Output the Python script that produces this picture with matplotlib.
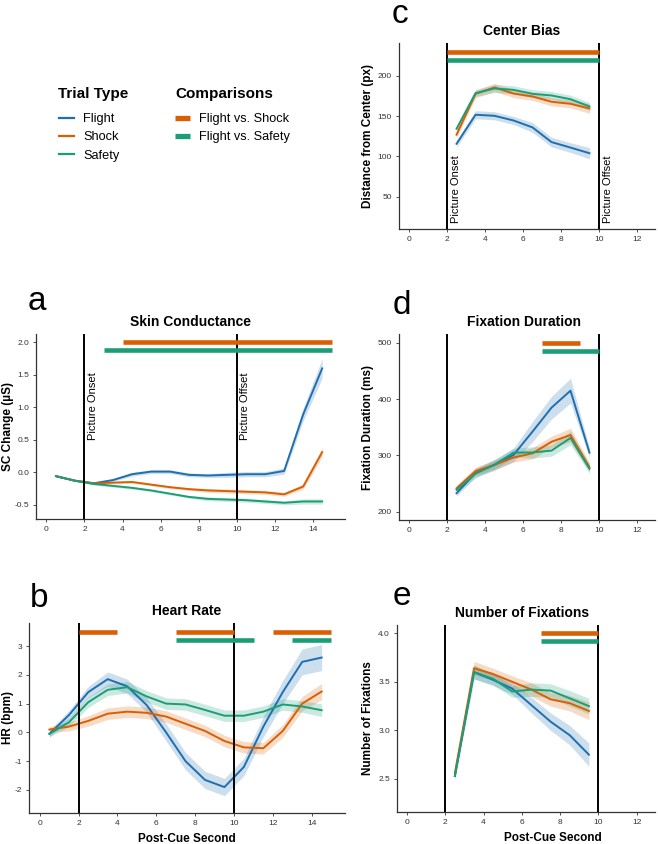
import matplotlib
matplotlib.use("Agg")
import matplotlib.pyplot as plt
from matplotlib.lines import Line2D

plt.rcParams["font.family"] = ["Liberation Sans", "DejaVu Sans"]
plt.rcParams["axes.unicode_minus"] = False

# ---- colours ----
C_FLIGHT = "#1f6fb0"
C_SHOCK = "#d95f02"
C_SAFETY = "#1b9e77"

# ---- a: skin conductance ----
sc_sec = [0.5, 1.5, 2.5, 3.5, 4.5, 5.5, 6.5, 7.5, 8.5, 9.5, 10.5, 11.5, 12.5, 13.5, 14.5]
sc_flight = [-0.06, -0.13, -0.17, -0.12, -0.03, 0.01, 0.01, -0.04, -0.05, -0.04, -0.03, -0.03, 0.02, 0.89, 1.60]
sc_shock = [-0.06, -0.13, -0.17, -0.16, -0.15, -0.19, -0.23, -0.26, -0.28, -0.29, -0.30, -0.31, -0.34, -0.22, 0.31]
sc_safety = [-0.06, -0.13, -0.18, -0.21, -0.24, -0.28, -0.33, -0.38, -0.41, -0.42, -0.43, -0.45, -0.47, -0.45, -0.45]
sc_flight_ci = [0.01, 0.01, 0.02, 0.02, 0.03, 0.03, 0.03, 0.03, 0.03, 0.04, 0.04, 0.04, 0.05, 0.10, 0.15]
sc_shock_ci = [0.01, 0.01, 0.02, 0.02, 0.02, 0.02, 0.02, 0.02, 0.03, 0.03, 0.03, 0.03, 0.03, 0.04, 0.07]
sc_safety_ci = [0.01, 0.01, 0.02, 0.02, 0.02, 0.02, 0.02, 0.02, 0.03, 0.03, 0.03, 0.03, 0.03, 0.04, 0.04]
sc_sig_shock = [(4, 15)]
sc_sig_safety = [(3, 15)]

# ---- b: heart rate ----
hr_sec = sc_sec
hr_flight = [-0.05, 0.60, 1.40, 1.85, 1.60, 0.95, 0.00, -1.00, -1.65, -1.90, -1.20, 0.20, 1.40, 2.45, 2.60]
hr_shock = [0.10, 0.20, 0.40, 0.65, 0.72, 0.68, 0.55, 0.30, 0.05, -0.30, -0.52, -0.55, 0.05, 1.00, 1.42]
hr_safety = [-0.05, 0.35, 1.05, 1.48, 1.57, 1.25, 1.00, 0.97, 0.78, 0.58, 0.58, 0.72, 0.97, 0.90, 0.77]
hr_flight_ci = [0.12, 0.15, 0.20, 0.25, 0.25, 0.25, 0.30, 0.30, 0.30, 0.30, 0.30, 0.35, 0.40, 0.45, 0.45]
hr_shock_ci = [0.10, 0.15, 0.18, 0.20, 0.20, 0.20, 0.20, 0.20, 0.20, 0.20, 0.20, 0.20, 0.22, 0.25, 0.28]
hr_safety_ci = [0.10, 0.15, 0.18, 0.20, 0.20, 0.20, 0.20, 0.20, 0.20, 0.20, 0.20, 0.20, 0.20, 0.20, 0.22]
hr_sig_shock = [(2, 4), (7, 10), (12, 15)]
hr_sig_safety = [(7, 11), (13, 15)]

# ---- c: center bias ----
eye_sec = [2.5, 3.5, 4.5, 5.5, 6.5, 7.5, 8.5, 9.5]
cb_flight = [115.7, 151.7, 150.4, 144.6, 136.0, 117.8, 111.0, 104.0]
cb_shock = [127.0, 177.7, 185.5, 178.0, 174.4, 167.8, 165.3, 159.5]
cb_safety = [134.3, 178.5, 184.3, 182.6, 177.7, 175.6, 171.0, 162.0]
cb_flight_ci = [4, 5, 5, 5, 6, 6, 6, 7]
cb_shock_ci = [4, 5, 5, 5, 5, 5, 5, 6]
cb_safety_ci = [4, 4, 5, 5, 5, 5, 5, 5]
cb_sig_shock = [(2, 10)]
cb_sig_safety = [(2, 10)]

# ---- d: fixation duration ----
fd_flight = [232.5, 269.0, 283.0, 300.6, 342.0, 384.6, 414.8, 304.7]
fd_shock = [241.4, 272.0, 283.0, 296.0, 303.5, 324.0, 336.0, 278.7]
fd_safety = [238.5, 267.5, 283.4, 304.7, 305.0, 308.3, 330.8, 276.0]
fd_flight_ci = [5, 8, 10, 12, 18, 20, 22, 8]
fd_shock_ci = [5, 7, 8, 8, 10, 10, 12, 8]
fd_safety_ci = [5, 7, 8, 8, 10, 10, 12, 8]
fd_sig_shock = [(7, 9)]
fd_sig_safety = [(7, 10)]

# ---- e: number of fixations ----
nf_flight = [2.53, 3.60, 3.52, 3.43, 3.26, 3.09, 2.95, 2.75]
nf_shock = [2.56, 3.64, 3.58, 3.50, 3.42, 3.32, 3.28, 3.20]
nf_safety = [2.53, 3.60, 3.53, 3.40, 3.42, 3.41, 3.33, 3.25]
nf_flight_ci = [0.03, 0.07, 0.06, 0.06, 0.08, 0.09, 0.10, 0.12]
nf_shock_ci = [0.03, 0.07, 0.06, 0.06, 0.07, 0.07, 0.08, 0.09]
nf_safety_ci = [0.03, 0.07, 0.06, 0.06, 0.07, 0.07, 0.08, 0.08]
nf_sig_shock = [(7, 10)]
nf_sig_safety = [(7, 10)]

W, H = 658, 844
fig = plt.figure(figsize=(W / 100, H / 100), dpi=100)


def px_axes(left, top, right, bottom):
    return fig.add_axes([left / W, 1 - bottom / H, (right - left) / W, (bottom - top) / H])


def style(ax, title, ylabel, xlim, ylim, xticks, yticks, yfmt, label_dx):
    ax.set_xlim(*xlim)
    ax.set_ylim(*ylim)
    ax.set_xticks(xticks)
    ax.set_yticks(yticks)
    ax.set_yticklabels([yfmt.format(v) for v in yticks])
    for s in ("top", "right"):
        ax.spines[s].set_visible(False)
    for s in ("left", "bottom"):
        ax.spines[s].set_color("#333333")
        ax.spines[s].set_linewidth(0.9)
    ax.tick_params(labelsize=6, colors="#333333", length=2.5, width=0.6, pad=2.5)
    ax.set_title(title, fontsize=10, fontweight="bold", pad=6)
    ax.set_ylabel(ylabel, fontsize=8.5, fontweight="bold")
    w = ax.get_position().width * W
    ax.yaxis.set_label_coords(-label_dx / w, 0.5)
    for xv in (2, 10):
        ax.axvline(xv, color="black", linewidth=1.4, zorder=4)


def curves(ax, x, series):
    for y, ci, col in series:
        lo = [a - b for a, b in zip(y, ci)]
        hi = [a + b for a, b in zip(y, ci)]
        ax.fill_between(x, lo, hi, color=col, alpha=0.22, linewidth=0, zorder=2)
        ax.plot(x, y, color=col, linewidth=1.4, zorder=3)


def sig(ax, spans, yv, col):
    for x0, x1 in spans:
        ax.plot([x0, x1], [yv, yv], color=col, linewidth=3.3, solid_capstyle="butt", zorder=5)


left_ticks = [0, 2, 4, 6, 8, 10, 12, 14]
right_ticks = [0, 2, 4, 6, 8, 10, 12]

# a
ax_a = px_axes(36, 334, 345, 519)
curves(ax_a, sc_sec, [(sc_flight, sc_flight_ci, C_FLIGHT), (sc_shock, sc_shock_ci, C_SHOCK),
                      (sc_safety, sc_safety_ci, C_SAFETY)])
sig(ax_a, sc_sig_shock, 2.0, C_SHOCK)
sig(ax_a, sc_sig_safety, 1.88, C_SAFETY)
style(ax_a, "Skin Conductance", "SC Change (µS)", (-0.55, 15.7), (-0.72, 2.13),
      left_ticks, [-0.5, 0.0, 0.5, 1.0, 1.5, 2.0], "{:.1f}", 22)
ax_a.text(2.18, 0.5, "Picture Onset", rotation=90, fontsize=8, ha="left", va="bottom")
ax_a.text(10.18, 0.5, "Picture Offset", rotation=90, fontsize=8, ha="left", va="bottom")

# b
ax_b = px_axes(29, 623, 345, 813)
curves(ax_b, hr_sec, [(hr_flight, hr_flight_ci, C_FLIGHT), (hr_shock, hr_shock_ci, C_SHOCK),
                      (hr_safety, hr_safety_ci, C_SAFETY)])
sig(ax_b, hr_sig_shock, 3.5, C_SHOCK)
sig(ax_b, hr_sig_safety, 3.2, C_SAFETY)
style(ax_b, "Heart Rate", "HR (bpm)", (-0.55, 15.7), (-2.8, 3.8),
      left_ticks, [-2, -1, 0, 1, 2, 3], "{:d}", 15)
ax_b.set_xlabel("Post-Cue Second", fontsize=8.5, fontweight="bold")
ax_b.xaxis.set_label_coords(0.5, -0.105)

# c
ax_c = px_axes(399, 43, 655, 229)
curves(ax_c, eye_sec, [(cb_flight, cb_flight_ci, C_FLIGHT), (cb_shock, cb_shock_ci, C_SHOCK),
                       (cb_safety, cb_safety_ci, C_SAFETY)])
sig(ax_c, cb_sig_shock, 230, C_SHOCK)
sig(ax_c, cb_sig_safety, 220, C_SAFETY)
style(ax_c, "Center Bias", "Distance from Center (px)", (-0.53, 12.95), (10, 240.7),
      right_ticks, [50, 100, 150, 200], "{:d}", 25)
ax_c.title.set_x(0.48)
ax_c.text(2.2, 18, "Picture Onset", rotation=90, fontsize=8, ha="left", va="bottom")
ax_c.text(10.2, 18, "Picture Offset", rotation=90, fontsize=8, ha="left", va="bottom")

# d
ax_d = px_axes(399, 334, 655, 520)
curves(ax_d, eye_sec, [(fd_flight, fd_flight_ci, C_FLIGHT), (fd_shock, fd_shock_ci, C_SHOCK),
                       (fd_safety, fd_safety_ci, C_SAFETY)])
sig(ax_d, fd_sig_shock, 500, C_SHOCK)
sig(ax_d, fd_sig_safety, 485, C_SAFETY)
style(ax_d, "Fixation Duration", "Fixation Duration (ms)", (-0.53, 12.95), (185, 515.5),
      right_ticks, [200, 300, 400, 500], "{:d}", 25)
ax_d.title.set_x(0.49)

# e
ax_e = px_axes(397, 625, 655, 812)
curves(ax_e, eye_sec, [(nf_flight, nf_flight_ci, C_FLIGHT), (nf_shock, nf_shock_ci, C_SHOCK),
                       (nf_safety, nf_safety_ci, C_SAFETY)])
sig(ax_e, nf_sig_shock, 4.0, C_SHOCK)
sig(ax_e, nf_sig_safety, 3.92, C_SAFETY)
style(ax_e, "Number of Fixations", "Number of Fixations", (-0.52, 12.95), (2.16, 4.085),
      right_ticks, [2.5, 3.0, 3.5, 4.0], "{:.1f}", 23)
ax_e.title.set_x(0.485)
ax_e.set_xlabel("Post-Cue Second", fontsize=8.5, fontweight="bold")
ax_e.xaxis.set_label_coords(0.605, -0.105)

# panel letters
for lx, ly, letter in [(392, 23, "c"), (28, 310, "a"), (393, 314, "d"), (30, 607, "b"), (393, 605, "e")]:
    fig.text(lx / W, 1 - ly / H, letter, fontsize=24, ha="left", va="baseline")

# legends
fig.text(58 / W, 1 - 98 / H, "Trial Type", fontsize=11, fontweight="bold", va="baseline")
fig.text(175 / W, 1 - 98 / H, "Comparisons", fontsize=11, fontweight="bold", va="baseline")
trial_handles = [Line2D([], [], color=C_FLIGHT, linewidth=1.6, label="Flight"),
                 Line2D([], [], color=C_SHOCK, linewidth=1.6, label="Shock"),
                 Line2D([], [], color=C_SAFETY, linewidth=1.6, label="Safety")]
comp_handles = [Line2D([], [], color=C_SHOCK, linewidth=3.8, solid_capstyle="butt", label="Flight vs. Shock"),
                Line2D([], [], color=C_SAFETY, linewidth=3.8, solid_capstyle="butt", label="Flight vs. Safety")]
common = dict(loc="upper left", frameon=False, fontsize=9.2, handlelength=1.2, handletextpad=0.7,
              labelspacing=0.5, borderpad=0, borderaxespad=0)
fig.legend(handles=trial_handles, bbox_to_anchor=(59 / W, 1 - 113 / H), **common)
fig.legend(handles=comp_handles, bbox_to_anchor=(175 / W, 1 - 113 / H), **common)

fig.savefig("out.png", dpi=100)
